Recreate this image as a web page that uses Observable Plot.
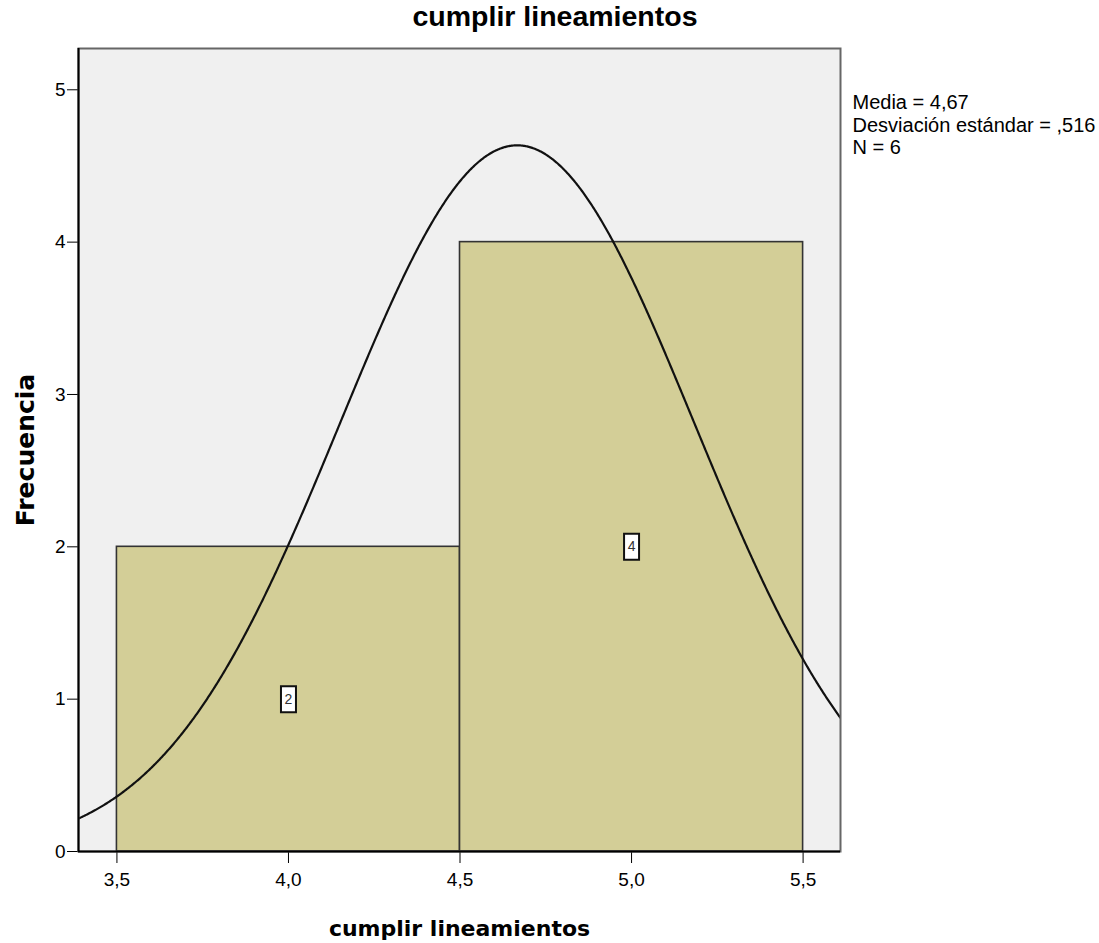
<!DOCTYPE html>
<html>
<head>
<meta charset="utf-8">
<script src="https://cdn.jsdelivr.net/npm/d3@7"></script>
<script src="https://cdn.jsdelivr.net/npm/@observablehq/plot@0.6"></script>
<style>
  html, body { margin: 0; padding: 0; background: #ffffff; }
  #title { width: 1110px; height: 36px; line-height: 44px; text-align: center;
           font: bold 28.5px "Liberation Sans", Arial, sans-serif; color: #000; overflow: visible; }
  svg { display: block; }
</style>
</head>
<body>
<div id="title"></div>
<div id="chart"></div>
<script>
// ---- data ----
const chartTitle = "cumplir lineamientos";
const xLabel = "cumplir lineamientos";
const yLabel = "Frecuencia";
const binStart = [3.5, 4.5];
const binEnd = [4.5, 5.5];
const counts = [2, 4];
const xTicks = [3.5, 4.0, 4.5, 5.0, 5.5];
const yTicks = [0, 1, 2, 3, 4, 5];
const legendLines = ["Media = 4,67", "Desviación estándar = ,516", "N = 6"];
const xDomain = [3.388, 5.609];
const yDomain = [0, 5.271];

// ---- derived table ----
const bins = binStart.map((s, i) => ({x1: s, x2: binEnd[i], count: counts[i], mid: (s + binEnd[i]) / 2}));
const n = d3.sum(counts);
const mean = d3.sum(bins, b => b.count * b.mid) / n;
const sd = Math.sqrt(d3.sum(bins, b => b.count * (b.mid - mean) ** 2) / (n - 1));
const binWidth = binEnd[0] - binStart[0];
// fitted normal curve (as drawn by the histogram's normal overlay)
const curve = d3.range(xDomain[0], xDomain[1] + 0.0025, 0.0025).map(x => ({
  x, y: n * binWidth * Math.exp(-0.5 * ((x - mean) / sd) ** 2) / (sd * Math.sqrt(2 * Math.PI))
}));

const boxSymbol = {
  draw(context) { context.rect(-7.5, -13, 15, 26); }
};

document.getElementById("title").textContent = chartTitle;

const fmt = d => d.toFixed(1).replace(".", ",");

const chart = Plot.plot({
  width: 1099,
  height: 907,
  marginTop: 12,
  marginLeft: 78,
  marginRight: 259,
  marginBottom: 92,
  style: {fontFamily: "'Liberation Sans', Arial, sans-serif", fontSize: "19px", color: "#000", background: "#ffffff"},
  x: {domain: xDomain, ticks: xTicks, tickFormat: fmt, tickSize: 12, tickPadding: 9, label: null},
  y: {domain: yDomain, ticks: yTicks, tickFormat: d => String(d), tickSize: 11, tickPadding: 2, label: null},
  marks: [
    Plot.frame({fill: "#f0f0f0", stroke: null}),
    Plot.rectY(bins, {x1: "x1", x2: "x2", y: "count", fill: "#d3ce97", stroke: "#333333", strokeWidth: 1.6}),
    Plot.line(curve, {x: "x", y: "y", stroke: "#111111", strokeWidth: 2.2, clip: true}),
    Plot.dot(bins, {x: "mid", y: d => d.count / 2, symbol: boxSymbol, fill: "#ffffff", stroke: "#111111", strokeWidth: 2}),
    Plot.text(bins, {x: "mid", y: d => d.count / 2, text: d => String(d.count), fontSize: 14, fill: "#333333"}),
    Plot.frame({stroke: "#666666", strokeWidth: 2}),
    Plot.ruleY([yDomain[0]], {stroke: "#000", strokeWidth: 2}),
    Plot.ruleX([xDomain[0]], {stroke: "#000", strokeWidth: 2}),
    Plot.text([legendLines.join("\n")], {frameAnchor: "top-right", dx: 12, dy: 45, textAnchor: "start", lineAnchor: "top", lineHeight: 1.125, fontSize: 20, fill: "#000"}),
    Plot.text([xLabel], {frameAnchor: "bottom", dy: 77, textAnchor: "middle", lineAnchor: "middle", fontSize: 22, fontWeight: "bold", fontFamily: "'DejaVu Sans', sans-serif", fill: "#000"}),
    Plot.text([yLabel], {frameAnchor: "left", dx: -53, rotate: -90, textAnchor: "middle", lineAnchor: "middle", fontSize: 25, fontWeight: "bold", fontFamily: "'DejaVu Sans', sans-serif", fill: "#000"})
  ]
});
document.getElementById("chart").appendChild(chart);
</script>
</body>
</html>
